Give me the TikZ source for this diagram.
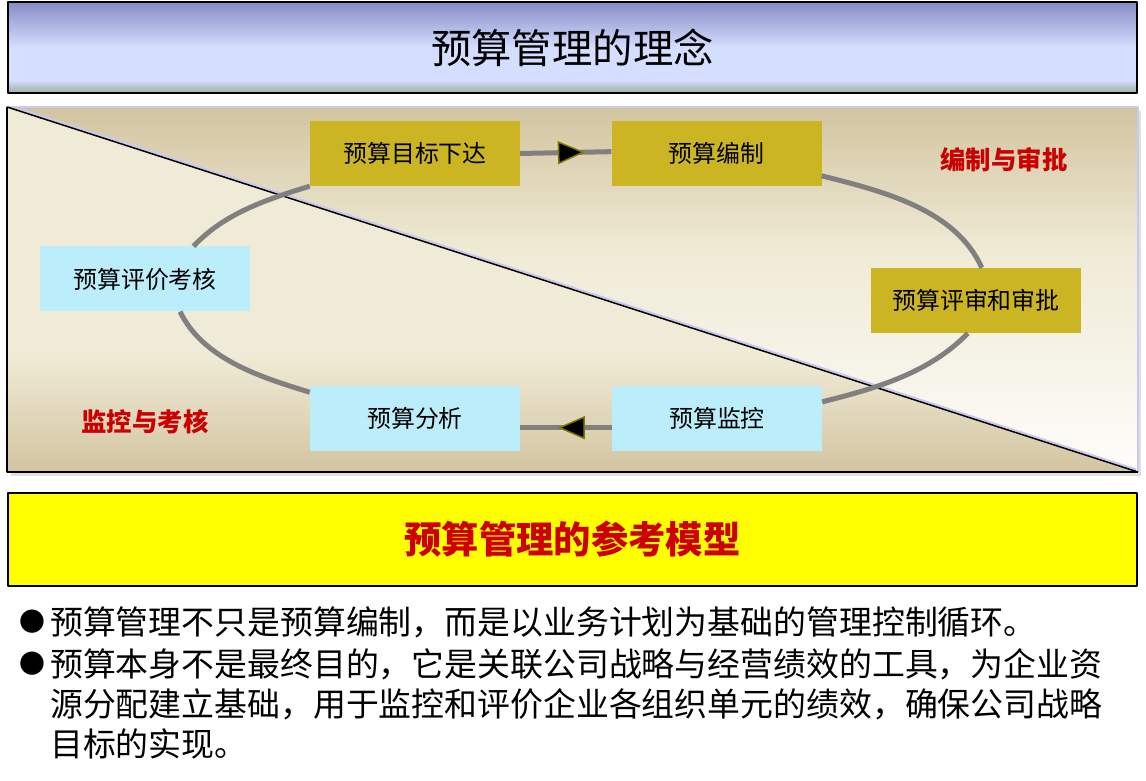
\documentclass[tikz,border=0pt]{standalone}
\usepackage{fontspec}
\setmainfont{Noto Sans CJK SC}
\usepackage{tikz}
\usetikzlibrary{arrows.meta,decorations.markings}

\definecolor{titletop}{HTML}{868CC6}
\definecolor{titlelight}{HTML}{D4DEFE}
\definecolor{titlebot}{HTML}{9CAE9C}
\definecolor{tanc}{HTML}{D2C4A0}
\definecolor{cream}{HTML}{F0EBD6}
\definecolor{panelmid}{HTML}{F6F3E8}
\definecolor{paperwhite}{HTML}{FEFDFA}
\pgfdeclareverticalshading{titleshade}{100bp}{color(0bp)=(titlebot); color(25bp)=(titlebot); color(32bp)=(titlelight); color(50bp)=(titlelight); color(75bp)=(titletop); color(100bp)=(titletop)}
\pgfdeclareverticalshading{uppershade}{100bp}{color(0bp)=(paperwhite); color(25bp)=(paperwhite); color(40bp)=(panelmid); color(55bp)=(cream); color(75bp)=(tanc); color(100bp)=(tanc)}
\pgfdeclareverticalshading{lowershade}{100bp}{color(0bp)=(tanc); color(25bp)=(tanc); color(41bp)=(cream); color(75bp)=(cream); color(100bp)=(cream)}

\begin{document}
\begin{tikzpicture}[x=1bp,y=1bp,line join=bevel,
  goldbox/.style={fill=boxgold,minimum width=210bp,minimum height=65bp,inner sep=0pt,font=\fontsize{24}{28}\selectfont},
  cyanbox/.style={goldbox,fill=boxcyan},
  redlabel/.style={text=labelred,font=\fontsize{25.5}{28}\selectfont\bfseries},
  loopline/.style={draw=loopgray,line width=5bp},
  midarrow/.style={postaction={decorate},decoration={markings,mark=at position #1 with {\arrow{Triangle[length=27bp,width=23bp,line width=1.5bp,color=arrowedge,fill=black]}}}},
]
\definecolor{boxgold}{HTML}{CCB523}
\definecolor{boxcyan}{HTML}{BBEDFA}
\definecolor{labelred}{HTML}{CC0000}
\definecolor{loopgray}{HTML}{808080}
\definecolor{arrowedge}{HTML}{7F7800}
\definecolor{panelrim}{HTML}{C8C8F2}
\definecolor{modelyellow}{HTML}{FFFF00}

\useasboundingbox (0,0) rectangle (1146,781);

% Title bar
\node[draw,line width=2.5bp,shade,shading=titleshade,minimum width=1129bp,minimum height=91bp,inner sep=0pt,
  font=\fontsize{40.5}{44}\selectfont] (title) at (572.5,733.5) {预算管理的理念};

% Panel
\fill[black!12] (11,305) rectangle (1141,670);
\shade[shading=uppershade] (7,674) -- (1138,674) -- (1138,309) -- cycle;
\shade[shading=lowershade] (7,674) -- (1138,309) -- (7,309) -- cycle;
\draw[panelrim,line width=1.5bp] (7,674) -- (1138,674) -- (1138,309);
\draw[line width=2bp] (7,674) -- (7,309) -- (1138,309);
\draw[panelrim,line width=2bp] (20,671.8) -- (1136,311.6);
\draw[line width=1.5bp] (7,674) -- (1138,309);

% Node: tgt
\node[goldbox] (tgt) at (415,627.5) {预算目标下达};
% Node: bz
\node[goldbox] (bz) at (716.5,627.5) {预算编制};
% Node: ps
\node[goldbox] (ps) at (976,480.5) {预算评审和审批};
% Node: jk
\node[cyanbox] (jk) at (717,362.5) {预算监控};
% Node: fx
\node[cyanbox] (fx) at (415,362.5) {预算分析};
% Node: pj
\node[cyanbox] (pj) at (145,502) {预算评价考核};

\node[redlabel] (bzsp) at (1004,621) {编制与审批};
\node[redlabel] (jkkh) at (145,359) {监控与考核};

% Edge: tgt -> bz
\draw[loopline,midarrow=0.71] (tgt.0) -- (bz.179);
% Edge: bz -> ps
\draw[loopline] (bz.-12) to[out=-14,in=114,looseness=0.88] (ps.80);
% Edge: ps -> jk
\draw[loopline] (ps.-104) to[out=-134,in=14,looseness=0.88] (jk.9);
% Edge: jk -> fx
\draw[loopline,midarrow=0.59] (jk.185) -- (fx.-5);
% Edge: fx -> pj
\draw[loopline] (fx.166) to[out=163,in=-64,looseness=0.88] (pj.-43);
% Edge: pj -> tgt
\draw[loopline] (pj.34) to[out=47,in=197,looseness=0.88] (tgt.south west);

% Model bar
\node[draw,line width=2bp,fill=modelyellow,minimum width=1129bp,minimum height=93bp,inner sep=0pt,
  text=labelred,font=\fontsize{37.5}{40}\selectfont\bfseries] (model) at (572.5,241.5) {预算管理的参考模型};

% Notes
\node[font=\fontsize{26}{26}\selectfont,inner sep=0pt] (dot1) at (32,159) {●};
\node[font=\fontsize{26}{26}\selectfont,inner sep=0pt] (dot2) at (32,117) {●};
\node[anchor=base west,inner sep=0pt,font=\fontsize{33}{40}\selectfont] (note1) at (50,146.5)
  {预算管理不只是预算编制，而是以业务计划为基础的管理控制循环。};
\node[anchor=base west,align=left,inner sep=0pt,font=\fontsize{33}{40}\selectfont] (note2) at (50,24.5)
  {预算本身不是最终目的，它是关联公司战略与经营绩效的工具，为企业资\\
   源分配建立基础，用于监控和评价企业各组织单元的绩效，确保公司战略\\
   目标的实现。};
\end{tikzpicture}
\end{document}
